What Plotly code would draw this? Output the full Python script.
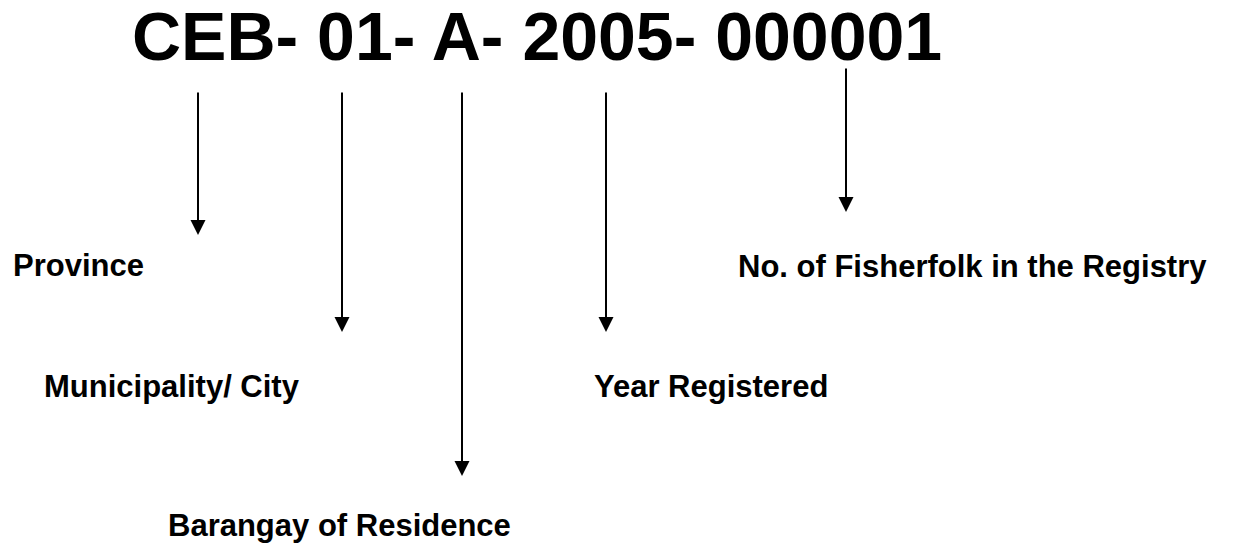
import plotly.graph_objects as go

# Code string and its parts
code_text = "CEB- 01- A- 2005- 000001"
labels = ["Province", "Municipality/ City", "Barangay of Residence",
          "Year Registered", "No. of Fisherfolk in the Registry"]
# arrow x positions, arrow start y, arrow tip y (pixel-space data)
arrow_x = [198, 342, 462, 606, 846]
arrow_y0 = [91, 91, 91, 91, 67]
arrow_y1 = [235, 332, 476, 332, 212]
# label anchor positions (left x, middle y)
label_x = [11, 42, 166, 592, 736]
label_y = [265, 386, 525, 386, 266]

W, H = 1233, 550
FONT = "Liberation Sans, Arial, sans-serif"

fig = go.Figure()
fig.add_trace(go.Scatter(x=[0, W], y=[0, H], mode="markers",
                         marker=dict(opacity=0), hoverinfo="skip", showlegend=False))

annotations = []
annotations.append(dict(x=536.5, y=36, xref="x", yref="y", text="<b>" + code_text + "</b>",
                        showarrow=False, xanchor="center", yanchor="middle",
                        font=dict(family=FONT, size=68, color="black")))
for lx, ly, t in zip(label_x, label_y, labels):
    annotations.append(dict(x=lx, y=ly, xref="x", yref="y", text="<b>" + t + "</b>",
                            showarrow=False, xanchor="left", yanchor="middle",
                            font=dict(family=FONT, size=31, color="black")))
for ax_, y0, y1 in zip(arrow_x, arrow_y0, arrow_y1):
    annotations.append(dict(x=ax_, y=y1, ax=ax_, ay=y0, xref="x", yref="y",
                            axref="x", ayref="y", text="", showarrow=True,
                            arrowhead=2, arrowsize=1.5, arrowwidth=2,
                            arrowcolor="black", standoff=0, startstandoff=0))

fig.update_layout(
    width=W, height=H,
    margin=dict(l=0, r=0, t=0, b=0),
    paper_bgcolor="white", plot_bgcolor="white",
    xaxis=dict(range=[0, W], visible=False, fixedrange=True),
    yaxis=dict(range=[H, 0], visible=False, fixedrange=True),
    annotations=annotations,
    showlegend=False,
)
fig.write_html("out.html", config={"displayModeBar": False},
               post_script="document.body.style.margin='0';document.body.style.overflow='hidden';")
